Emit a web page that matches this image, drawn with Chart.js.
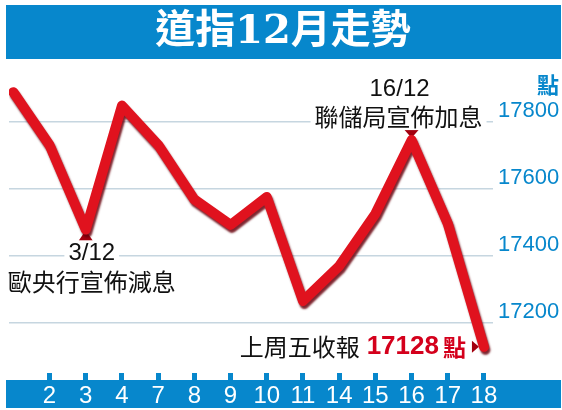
<!DOCTYPE html>
<html>
<head>
<meta charset="utf-8">
<script src="https://cdn.jsdelivr.net/npm/chart.js@4.4.1/dist/chart.umd.min.js"></script>
<style>
  html, body { margin: 0; padding: 0; background: #fff; }
  #wrap { width: 562px; height: 410px; }
</style>
</head>
<body>
<div id="wrap"><canvas id="dowChart" width="562" height="410"></canvas></div>
<script>
// Dow Jones closes, December (first point = 1 Dec, no label under it)
const dayLabels = ['', '2', '3', '4', '7', '8', '9', '10', '11', '14', '15', '16', '17', '18'];
const closes = [17888, 17730, 17478, 17848, 17731, 17568, 17492, 17575, 17265, 17369, 17525, 17745, 17496, 17128];
const yTicks = [17200, 17400, 17600, 17800];

const titleText = '道指12月走勢';
const unitText = '點';
const cutNote = { idx: 2, date: '3/12', text: '歐央行宣佈減息' };
const hikeNote = { idx: 11, date: '16/12', text: '聯儲局宣佈加息' };
const lastNote = { lead: '上周五收報', value: '17128', unit: '點' };

const BLUE = '#0787cc';
const RED = '#e0121e';
const DARK_RED = '#a3000f';
const LATIN = '"Liberation Sans", "Noto Sans CJK TC", sans-serif';

function tri(ctx, pts, color) {
  ctx.beginPath();
  ctx.moveTo(pts[0][0], pts[0][1]);
  ctx.lineTo(pts[1][0], pts[1][1]);
  ctx.lineTo(pts[2][0], pts[2][1]);
  ctx.closePath();
  ctx.fillStyle = color;
  ctx.fill();
}

function label(ctx, text, x, y, font, color, align, bg) {
  ctx.font = font;
  ctx.textAlign = align || 'center';
  ctx.textBaseline = 'middle';
  const w = ctx.measureText(text).width;
  if (bg) {
    const left = align === 'left' ? x : align === 'right' ? x - w : x - w / 2;
    ctx.fillStyle = '#fff';
    ctx.fillRect(left - 4, y - 13, w + 8, 26);
  }
  ctx.fillStyle = color;
  ctx.fillText(text, x, y);
  return w;
}

// blue banners + title, drawn under everything
const framePlugin = {
  id: 'frame',
  beforeDraw(chart) {
    const ctx = chart.ctx;
    ctx.save();
    ctx.fillStyle = '#fff';
    ctx.fillRect(0, 0, chart.width, chart.height);
    ctx.fillStyle = BLUE;
    ctx.fillRect(6, 5, 555, 54);
    ctx.fillRect(6, 380, 555, 28);
    label(ctx, titleText, 283, 33, 'bold 40px "DejaVu Serif", "Noto Sans CJK TC", serif', '#fff');
    ctx.restore();
  },
  // notes sit over the grid but under the line
  beforeDatasetsDraw(chart) {
    const ctx = chart.ctx;
    const xs = chart.scales.x, ys = chart.scales.y;
    ctx.save();

    label(ctx, unitText, 548, 85, 'bold 22px "Noto Sans CJK TC", sans-serif', BLUE);

    let px = xs.getPixelForValue(cutNote.idx), py = ys.getPixelForValue(closes[cutNote.idx]);
    tri(ctx, [[px, py + 1], [px - 7, py + 11], [px + 7, py + 11]], DARK_RED);
    label(ctx, cutNote.date, px + 6, py + 24, '24px ' + LATIN, '#111', 'center', true);
    label(ctx, cutNote.text, px + 6, py + 52, '24px "Noto Sans CJK TC", sans-serif', '#111');

    px = xs.getPixelForValue(hikeNote.idx); py = ys.getPixelForValue(closes[hikeNote.idx]);
    tri(ctx, [[px - 7, py - 10], [px + 7, py - 10], [px, py - 2]], DARK_RED);
    label(ctx, hikeNote.date, px - 12, py - 51, '24px ' + LATIN, '#111');
    label(ctx, hikeNote.text, px - 13, py - 23, '24px "Noto Sans CJK TC", sans-serif', '#111', 'center', true);

    const last = closes.length - 1;
    px = xs.getPixelForValue(last); py = ys.getPixelForValue(closes[last]);
    tri(ctx, [[px - 12, py - 6], [px - 12, py + 6], [px - 5, py]], DARK_RED);
    let x = px - 18;
    x -= label(ctx, lastNote.unit, x, py, 'bold 23px "Noto Sans CJK TC", sans-serif', '#d4001c', 'right') + 4;
    x -= label(ctx, lastNote.value, x, py, 'bold 26px ' + LATIN, '#d4001c', 'right') + 7;
    label(ctx, lastNote.lead, x, py, '24px "Noto Sans CJK TC", sans-serif', '#111', 'right');
    ctx.restore();
  },
  beforeDatasetDraw(chart, args) {
    const ctx = chart.ctx;
    ctx.save();
    if (args.index === 0) {
      ctx.shadowColor = 'rgba(105, 0, 12, 0.85)';
      ctx.shadowOffsetX = 1.5;
      ctx.shadowOffsetY = 3;
      ctx.shadowBlur = 2;
    }
  },
  afterDatasetDraw(chart) {
    chart.ctx.restore();
  }
};

new Chart(document.getElementById('dowChart'), {
  type: 'line',
  data: {
    datasets: [
      {
        data: closes.map((v, i) => ({ x: i, y: v })),
        borderColor: RED,
        borderWidth: 10,
        borderCapStyle: 'round',
        borderJoinStyle: 'round',
        pointRadius: 0,
        tension: 0
      },
      {
        // soft highlight along the tube
        data: closes.map((v, i) => ({ x: i, y: v })),
        borderColor: 'rgba(255, 120, 120, 0.35)',
        borderWidth: 3,
        borderCapStyle: 'round',
        borderJoinStyle: 'round',
        pointRadius: 0,
        tension: 0
      }
    ]
  },
  options: {
    responsive: false,
    animation: false,
    devicePixelRatio: 1,
    layout: { padding: { top: 62, left: 9, right: 3, bottom: 0 } },
    plugins: { legend: { display: false }, tooltip: { enabled: false } },
    scales: {
      x: {
        type: 'linear',
        min: -0.12,
        max: 13.25,
        afterBuildTicks: (s) => {
          s.ticks = dayLabels.map((d, i) => ({ value: i })).filter((t) => dayLabels[t.value] !== '');
        },
        afterFit: (s) => { s.height = 37; },
        ticks: {
          callback: (v) => dayLabels[v],
          color: '#fff',
          font: { family: 'Liberation Sans', size: 24, lineHeight: 1 },
          padding: 4,
          autoSkip: false,
          maxRotation: 0
        },
        grid: { drawOnChartArea: false, drawTicks: true, tickLength: 7, tickWidth: 5, tickColor: BLUE },
        border: { display: false }
      },
      y: {
        position: 'right',
        min: 17050,
        max: 17978,
        afterBuildTicks: (s) => { s.ticks = yTicks.map((v) => ({ value: v })); },
        afterFit: (s) => { s.width = 66; },
        ticks: {
          callback: (v) => String(v),
          color: BLUE,
          font: { family: 'Liberation Sans', size: 22 },
          padding: 5,
          labelOffset: -11
        },
        grid: { color: '#c6d6e0', lineWidth: 1.5, drawTicks: false },
        border: { display: false }
      }
    }
  },
  plugins: [framePlugin]
});
</script>
</body>
</html>
